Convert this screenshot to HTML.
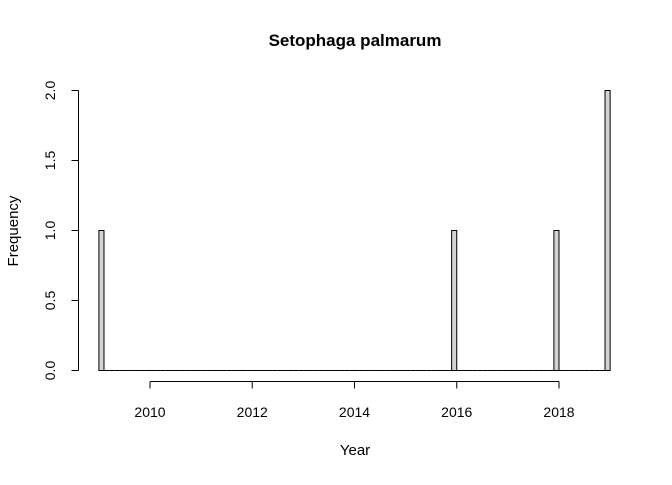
<!DOCTYPE html>
<html><head><meta charset="utf-8"><style>
body{margin:0;background:#fff}
text{font-family:"Liberation Sans",sans-serif;fill:#000}
</style></head><body>
<svg width="672" height="480">
<g id="bars"></g>
<g id="axes"></g>
<text x="355" y="46" font-size="17" font-weight="bold" text-anchor="middle">Setophaga palmarum</text>
<text x="355" y="455" font-size="15" text-anchor="middle">Year</text>
<text transform="translate(18,231) rotate(-90)" font-size="15" text-anchor="middle">Frequency</text>
</svg>
<script>
const years = [2009, 2016, 2018, 2019, 2019];
const breakStart = 2009, breakEnd = 2019, binWidth = 0.1;
const xTicks = [2010, 2012, 2014, 2016, 2018];
const yTicks = [0, 0.5, 1, 1.5, 2];
const yTickLabels = ["0.0", "0.5", "1.0", "1.5", "2.0"];
const NS = "http://www.w3.org/2000/svg";
const xs = v => 150 + (v - 2010) * 51.125;
const ys = v => 370.5 - v * 140;
function mk(t, a, p) { const e = document.createElementNS(NS, t); for (const k in a) e.setAttribute(k, a[k]); p.appendChild(e); return e; }
const nb = Math.round((breakEnd - breakStart) / binWidth);
const counts = new Array(nb).fill(0);
years.forEach(y => { let i = Math.ceil((y - breakStart) / binWidth - 1e-9) - 1; if (i < 0) i = 0; if (i >= nb) i = nb - 1; counts[i]++; });
const bars = document.getElementById('bars');
counts.forEach((c, i) => {
  const x0 = xs(breakStart + i * binWidth), x1 = xs(breakStart + (i + 1) * binWidth);
  const y0 = ys(0), y1 = ys(c);
  const p = mk('path', { d: `M${x0},${y0}V${y1}H${x1}V${y0}Z`, fill: '#d3d3d3', stroke: '#000', 'stroke-width': 1 }, bars);
  
  
});
const ax = document.getElementById('axes');
mk('line', { x1: xs(xTicks[0]), x2: xs(xTicks[xTicks.length - 1]), y1: 381.5, y2: 381.5, stroke: '#000' }, ax);
xTicks.forEach(t => {
  mk('line', { x1: xs(t), x2: xs(t), y1: 381.5, y2: 388.5, stroke: '#000' }, ax);
  const tx = mk('text', { x: xs(t), y: 417, 'font-size': 14, 'text-anchor': 'middle' }, ax);
  tx.textContent = t;
  
  
});
mk('line', { x1: 78.5, x2: 78.5, y1: ys(yTicks[0]), y2: ys(yTicks[yTicks.length - 1]), stroke: '#000' }, ax);
yTicks.forEach((t, i) => {
  mk('line', { x1: 71.5, x2: 78.5, y1: ys(t), y2: ys(t), stroke: '#000' }, ax);
  const tx = mk('text', { transform: `translate(55,${ys(t)}) rotate(-90)`, 'font-size': 14, 'text-anchor': 'middle' }, ax);
  tx.textContent = yTickLabels[i];
  
  
});
</script>
</body></html>
